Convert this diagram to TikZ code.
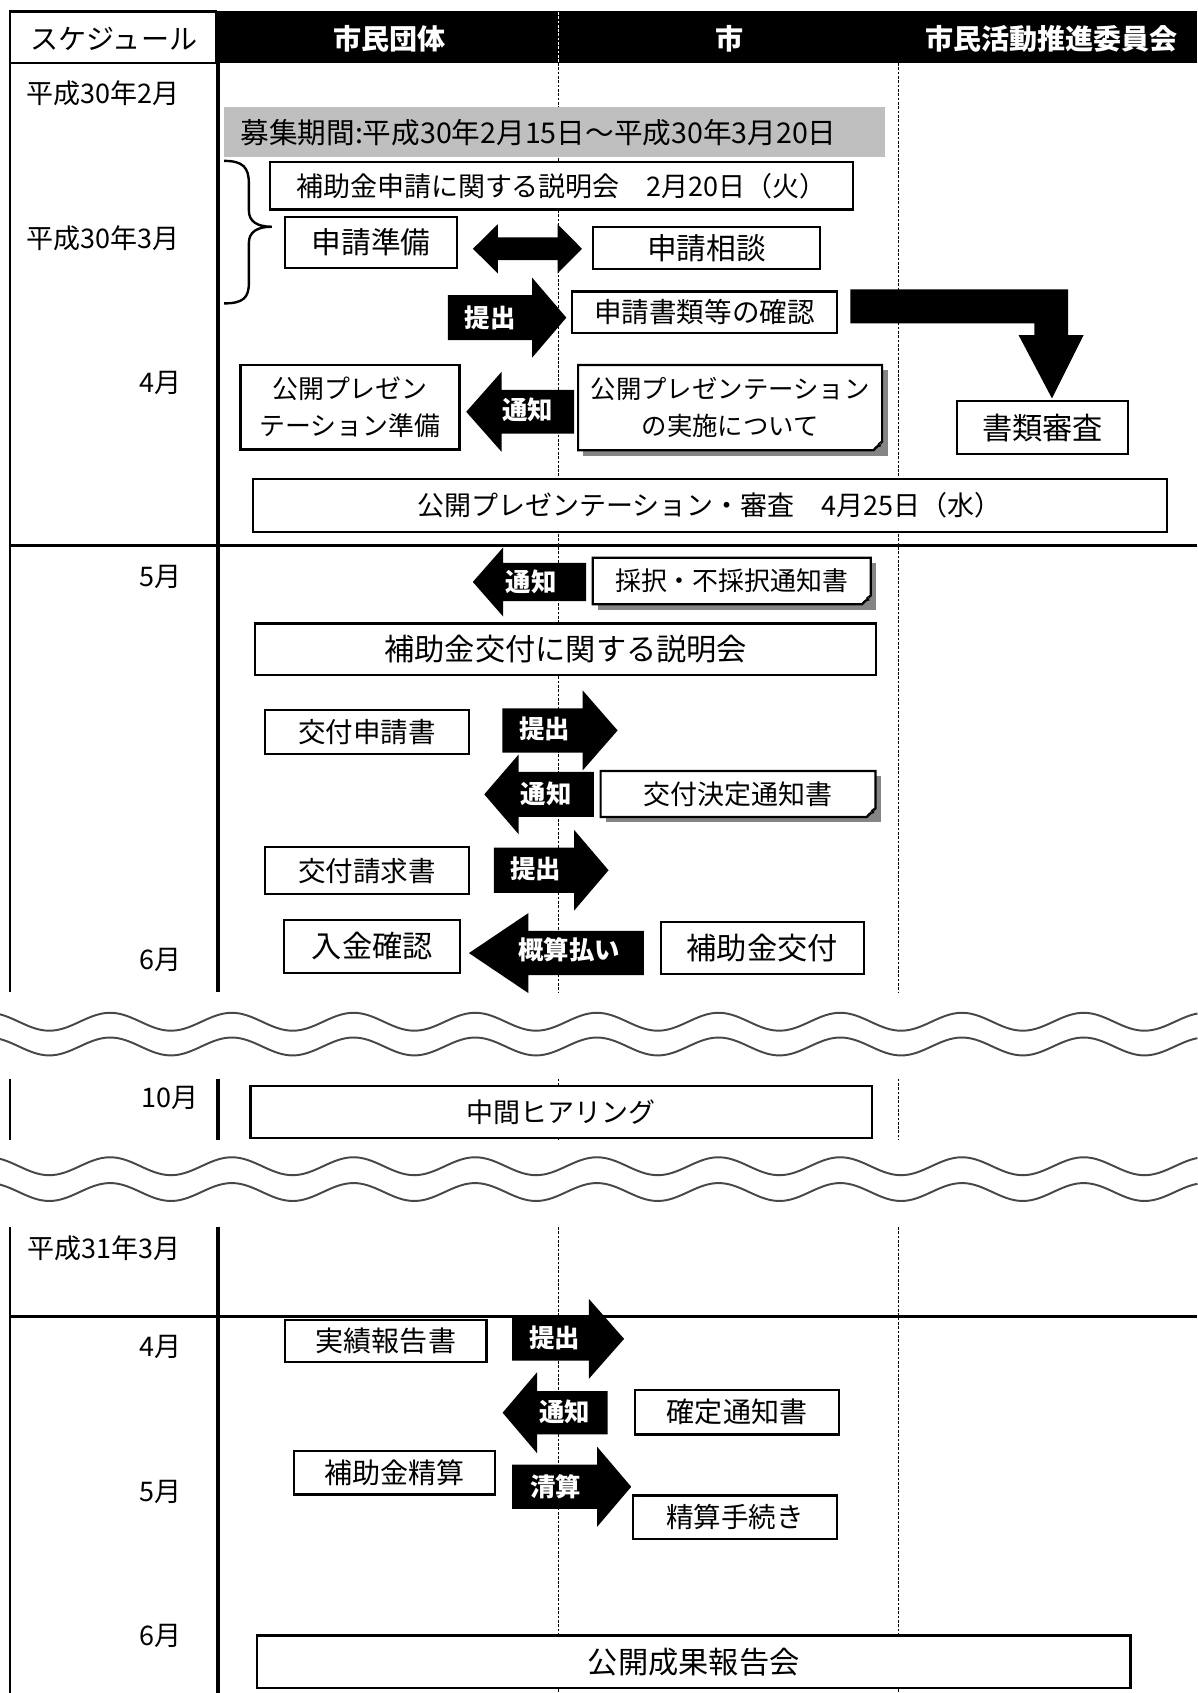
\documentclass[tikz,border=0pt]{standalone}
\usepackage{fontspec}
\setmainfont{Noto Sans CJK JP}
\newcommand{\fsz}[1]{\fontsize{#1}{34}\selectfont}
\tikzset{
  boxline/.style={draw=black, line width=2pt, fill=white},
  bx/.style={boxline, inner sep=0pt, align=center},
  lbl/.style={inner sep=0pt, font=\fsz{25}},
  albl/.style={inner sep=0pt, text=white, font=\bfseries\fsz{23.5}},
  hdr/.style={inner sep=0pt, text=white, font=\bfseries\fsz{26}},
  lane/.style={draw=black, line width=1pt, dash pattern=on 2.5pt off 1.5pt},
  edgeline/.style={line width=2.2pt},
  heavyline/.style={line width=3.6pt},
  wave/.style={draw=black!72, line width=1.8pt},
  shadowfill/.style={fill=black!48},
}
% plain box: [opts]{name}{x0}{y0}{x1}{y1}{text}
\newcommand{\mybox}[7][]{\node[bx,#1,minimum width={(#5-#3)*1pt},minimum height={(#6-#4)*1pt}] (#2) at ({(#3+#5)/2},{(#4+#6)/2}) {#7};}
% shadow box with folded corner
\newcommand{\shbox}[7][]{%
  \fill[shadowfill] ({#3+5},{#4+5}) rectangle ({#5+5},{#6+5});
  \draw[boxline] (#3,#4) -- (#5,#4) -- (#5,{#6-8}) -- ({#5-8},#6) -- (#3,#6) -- cycle;
  \draw[line width=1.3pt, fill=white] ({#5-8},#6) .. controls ({#5-6},{#6-3}) .. ({#5-2},{#6-4}) .. controls ({#5-4},{#6-6}) .. (#5,{#6-8});
  \node[inner sep=0pt, align=center, #1] (#2) at ({(#3+#5)/2},{(#4+#6)/2}) {#7};}
% fat arrow: xtail, xbase, xtip, yc, shaft half, head half
\newcommand{\fatarrow}[6]{\fill (#1,{#4-#5}) -- (#2,{#4-#5}) -- (#2,{#4-#6}) -- (#3,#4) -- (#2,{#4+#6}) -- (#2,{#4+#5}) -- (#1,{#4+#5}) -- cycle;}
\begin{document}
\begin{tikzpicture}[x=1pt,y=-1pt]
\useasboundingbox (0,0) rectangle (1109,1568);

% ---------- lanes (dashed) ----------
\draw[lane] (517.5,58.5) -- (517.5,918.7);
\draw[lane] (832.4,58.5) -- (832.4,918.7);
\draw[lane] (517.5,999) -- (517.5,1056.2);
\draw[lane] (832.4,999) -- (832.4,1056.2);
\draw[lane] (517.5,1136.4) -- (517.5,1568);
\draw[lane] (832.4,1136.4) -- (832.4,1568);

% ---------- header ----------
\fill (200,10.5) rectangle (1109,58.5);
\draw[lane, draw=white] (517.5,11) -- (517.5,58);
\draw[edgeline] (9,10.5) rectangle (200,58.5);
\node[inner sep=0pt, font=\fsz{26}] (hsched) at (105.5,36) {スケジュール};
\node[hdr] (hcitizen) at (360.8,36) {市民団体};
\node[hdr] (hcity) at (676,36) {市};
\node[hdr] (hcomm) at (974,36) {市民活動推進委員会};

% ---------- section 1 frame ----------
\draw[edgeline] (9,58.5) -- (9,918.7);
\draw[heavyline] (201.5,58.5) -- (201.5,918.7);
\draw[edgeline] (9,505.2) -- (1109,505.2);

% ---------- section 2 (10月) frame ----------
\draw[edgeline] (9,999) -- (9,1056.2);
\draw[heavyline] (201.6,999) -- (201.6,1056.2);

% ---------- section 3 frame ----------
\draw[edgeline] (9,1136.4) -- (9,1568);
\draw[heavyline] (201.6,1136.4) -- (201.6,1568);
\draw[edgeline] (9,1219.2) -- (1109,1219.2);

% ---------- wavy breaks ----------
\foreach \yc in {946.3,969.2,1080.1,1104}{
  \draw[wave] plot[domain=0:1109,samples=320,smooth] (\x,{\yc-8.3*cos((\x-102)*3.1943)});
}

% ---------- month labels ----------
\node[lbl, anchor=west] (m1) at (24,86.5) {平成30年2月};
\node[lbl, anchor=west] (m2) at (24,221) {平成30年3月};
\node[lbl] (m3) at (149,355) {4月};
\node[lbl] (m4) at (149,534) {5月};
\node[lbl] (m5) at (149,889) {6月};
\node[lbl] (m6) at (157,1017.3) {10月};
\node[lbl, anchor=west] (m7) at (25,1156.5) {平成31年3月};
\node[lbl] (m8) at (149,1247.6) {4月};
\node[lbl] (m9) at (149,1382) {5月};
\node[lbl] (m10) at (149,1514.7) {6月};

% ---------- recruitment period ----------
\fill[black!25] (207.4,99.4) rectangle (820,145.8);
\node[inner sep=0pt, anchor=west, font=\fsz{26.5}] (boshu) at (222.6,122.6) {募集期間:平成30年2月15日～平成30年3月20日};

% brace
\draw[line width=2.2pt] (207.5,149) .. controls (225,149) and (230.5,155) .. (230.5,170) -- (230.5,195)
  .. controls (230.5,205) and (238,210) .. (251.7,210)
  .. controls (238,210) and (230.5,215) .. (230.5,225) -- (230.5,262)
  .. controls (230.5,276) and (225,281) .. (207.5,281);

% ---------- section 1 boxes ----------
\mybox[font=\fsz{25}]{setsumei}{250}{150.4}{790}{194}{補助金申請に関する説明会　2月20日（火）}
\mybox[font=\fsz{27.5}]{junbi}{264}{200.7}{423.5}{248.6}{申請準備}
\mybox[font=\fsz{27.5}]{soudan}{549}{210}{759.7}{249.5}{申請相談}
\mybox[font=\fsz{25.5}]{kakunin}{530}{270}{775}{308.8}{申請書類等の確認}
\mybox[font=\fsz{24}]{pjunbi}{222.7}{338}{425.5}{416.3}{公開プレゼン\\テーション準備}
\shbox[font=\fsz{23.5}]{pjisshi}{535.4}{338}{817}{417}{公開プレゼンテーション\\の実施について}
\mybox[font=\fsz{28}]{shorui}{886.6}{371.5}{1044.9}{420.6}{書類審査}
\mybox[font=\fsz{25}]{pres}{234}{443.8}{1080.6}{492.6}{公開プレゼンテーション・審査　4月25日（水）}

\shbox[font=\fsz{24}]{saitaku}{549}{516.6}{806.4}{559.6}{採択・不採択通知書}
\mybox[font=\fsz{28}]{kofusetsu}{236.5}{577.5}{811.6}{625.4}{補助金交付に関する説明会}
\mybox[font=\fsz{25.5}]{kofushinsei}{245.7}{657.2}{434.3}{698.5}{交付申請書}
\shbox[font=\fsz{25}]{kettei}{556.3}{714}{810.8}{756.6}{交付決定通知書}
\mybox[font=\fsz{25.5}]{seikyu}{245.7}{784.4}{434.3}{828.2}{交付請求書}
\mybox[font=\fsz{28}]{nyukin}{263.4}{851.7}{426.2}{901.1}{入金確認}
\mybox[font=\fsz{28}]{kofu}{612.1}{853.9}{799.9}{902.3}{補助金交付}

% ---------- section 2 ----------
\mybox[font=\fsz{25}]{chukan}{232}{1005.8}{807.7}{1054}{中間ヒアリング}

% ---------- section 3 ----------
\mybox[font=\fsz{26}]{jisseki}{264.3}{1222.3}{450.5}{1261.5}{実績報告書}
\mybox[font=\fsz{26}]{kakutei}{588.4}{1287.1}{776.9}{1328.5}{確定通知書}
\mybox[font=\fsz{26}]{seisan}{272}{1344}{458.2}{1384.1}{補助金精算}
\mybox[font=\fsz{25.5}]{tetsuzuki}{586.5}{1385}{775}{1425.2}{精算手続き}
\mybox[font=\fsz{28}]{seika}{238.1}{1514.7}{1047}{1563.2}{公開成果報告会}

% ---------- black arrows ----------
% double arrow between 申請準備 and 申請相談
\fill (438,230.4) -- (461,207.7) -- (461,219.9) -- (516.5,219.9) -- (516.5,207.7) -- (539,230.4)
  -- (516.5,253.1) -- (516.5,240.9) -- (461,240.9) -- (461,253.1) -- cycle;

% bent arrow to 書類審査
\fill (787.5,268) -- (989.2,268) -- (989.2,310.4) -- (1003.6,310.4) -- (974.3,369) -- (943.4,310.4)
  -- (958,310.4) -- (958,299.5) -- (787.5,299.5) -- cycle;

\fatarrow{414.8}{492.8}{524.5}{294.2}{20.9}{37.1}
\node[albl] (a1) at (454,294) {提出};
\fatarrow{531.8}{464.5}{431.8}{381.4}{20.3}{37}
\node[albl] (a2) at (488.5,380) {通知};
\fatarrow{542.8}{466}{437.9}{539}{17.7}{32}
\node[albl] (a3) at (492,538.5) {通知};
\fatarrow{465.2}{539.6}{572}{676.5}{20.5}{37.1}
\node[albl] (a4) at (504.4,675) {提出};
\fatarrow{550.1}{480.4}{448.5}{735.7}{20.8}{37}
\node[albl] (a5) at (506,735) {通知};
\fatarrow{457.4}{531.8}{563.6}{806}{21}{37.3}
\node[albl] (a6) at (496.4,804.5) {提出};
\fatarrow{596.4}{489.3}{434.3}{882.7}{20.5}{37}
\node[albl] (a7) at (527,879.5) {概算払い};
\fatarrow{474.3}{545.4}{578}{1240}{20.1}{37}
\node[albl] (a8) at (513.7,1239) {提出};
\fatarrow{562.7}{497.4}{465.5}{1308.4}{20}{37.5}
\node[albl] (a9) at (523,1307.8) {通知};
\fatarrow{474.3}{553.1}{584.6}{1377}{20.5}{37}
\node[albl] (a10) at (514.7,1377.3) {清算};

\end{tikzpicture}
\end{document}
